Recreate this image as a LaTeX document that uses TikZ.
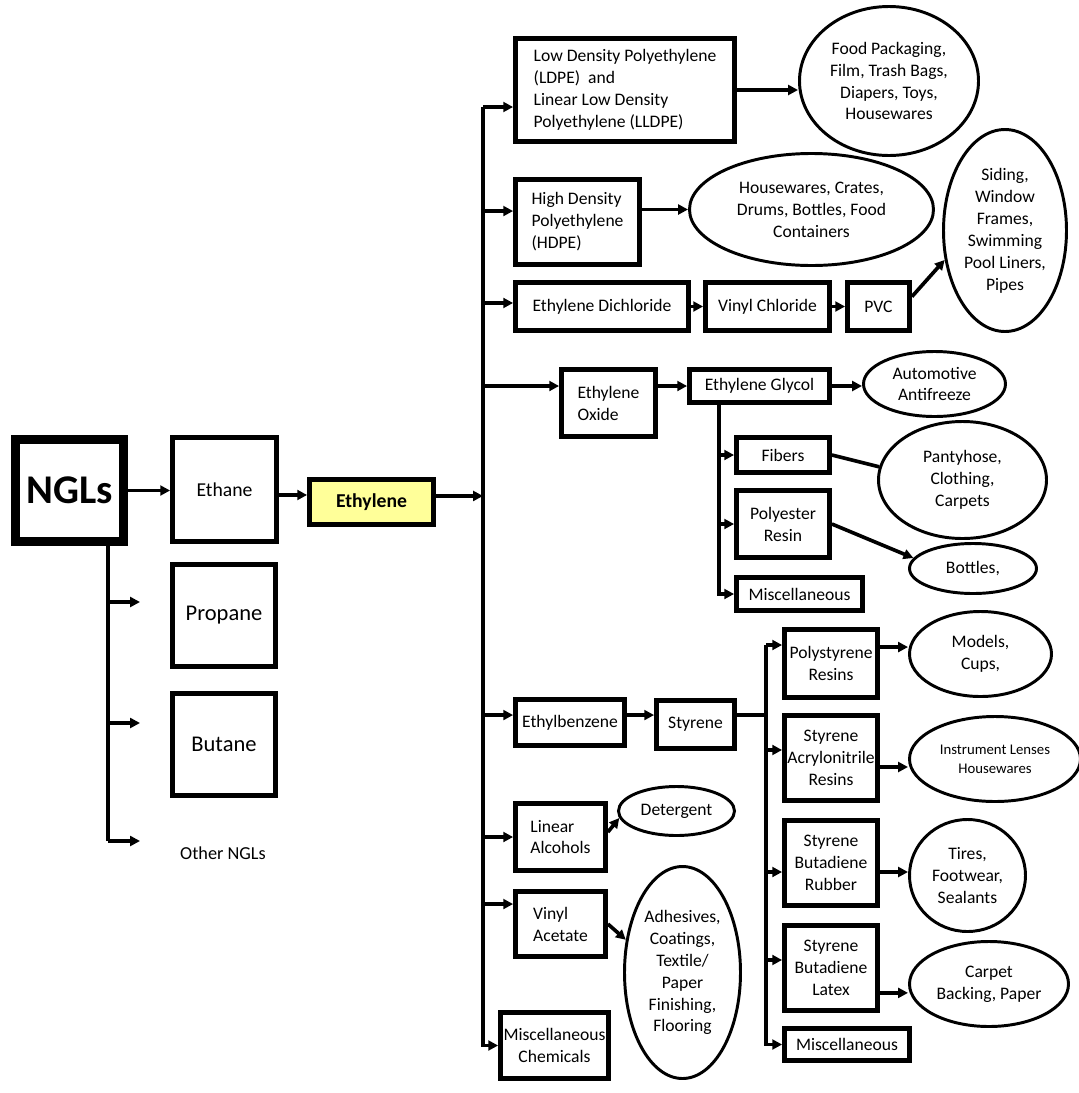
\documentclass[tikz,border=0pt]{standalone}
\usepackage{fontspec}
\setmainfont{Carlito}
\usetikzlibrary{arrows.meta, shapes.geometric}
\definecolor{ethyfill}{RGB}{255,255,153}
\tikzset{sz/.style 2 args={minimum width=#1*0.025cm, minimum height=#2*0.025cm}}

\begin{document}
\begin{tikzpicture}[
  x=0.025cm, y=-0.025cm,
  box/.style={rectangle, draw, line width=3.4pt, inner sep=1pt, align=center, font=\fontsize{12.5}{15.6}\selectfont},
  lbox/.style={box, align=left},
  oval/.style={ellipse, draw, line width=2.1pt, inner sep=0pt, align=center, font=\fontsize{12.5}{15.6}\selectfont},
  arr/.style={line width=2.6pt, -{Triangle[length=7pt, width=7pt]}},
  link/.style={line width=2.6pt}
]
\useasboundingbox (0,0) rectangle (1079,1093);

\node[box, sz={108}{102}, line width=6.2pt, font=\fontsize{29}{34}\selectfont\bfseries] (ngl) at (69.5, 490.5) {NGLs};
\node[box, sz={104}{104}, font=\fontsize{14}{17}\selectfont] (ethane) at (224.5, 489.5) {Ethane};
\node[box, sz={103}{102}, font=\fontsize{16}{19}\selectfont] (propane) at (224, 615.5) {Propane};
\node[box, sz={103}{102}, font=\fontsize{16}{19}\selectfont] (butane) at (224, 744.5) {Butane};
\node[font=\fontsize{13}{16}\selectfont] (other) at (223, 853) {Other NGLs};
\node[box, sz={124}{45}, fill=ethyfill, font=\fontsize{14}{17}\selectfont\bfseries] (ethylene) at (371.5, 502) {Ethylene};

\node[lbox, sz={219}{103}] (ldpe) at (625, 90) {Low Density Polyethylene\\(LDPE)\ \ and\\Linear Low Density\\Polyethylene (LLDPE)};
\node[lbox, sz={124}{85}] (hdpe) at (577.5, 222) {High Density\\Polyethylene\\(HDPE)};
\node[box, sz={173}{48}] (edc) at (602, 306.5) {Ethylene Dichloride};
\node[box, sz={124}{48}] (vcl) at (767.5, 306.5) {Vinyl Chloride};
\node[box, sz={62}{48}] (pvc) at (878.5, 306.5) {PVC};
\node[lbox, sz={94}{67}] (eo) at (608.5, 403) {Ethylene\\Oxide};
\node[box, sz={140}{33}] (eg) at (759.5, 386) {Ethylene Glycol};
\node[box, sz={93}{35}] (fibers) at (783, 455) {Fibers};
\node[box, sz={93}{67}] (polyres) at (783, 524) {Polyester\\Resin};
\node[box, sz={126}{33}] (misc1) at (799.5, 594) {Miscellaneous};
\node[box, sz={109}{46}] (ebz) at (570, 722.5) {Ethylbenzene};
\node[box, sz={78}{48}] (sty) at (695.5, 724.5) {Styrene};
\node[box, sz={93}{68}] (psr) at (831, 663.5) {Polystyrene\\Resins};
\node[box, sz={93}{85}] (san) at (831, 758) {Styrene\\Acrylonitrile\\Resins};
\node[box, sz={93}{85}] (sbr) at (831, 863) {Styrene\\Butadiene\\Rubber};
\node[box, sz={93}{85}] (sbl) at (831, 968) {Styrene\\Butadiene\\Latex};
\node[box, sz={125}{32}] (misc2) at (847, 1044.5) {Miscellaneous};
\node[lbox, sz={90}{67}] (lalc) at (560.5, 837) {Linear\\Alcohols};
\node[lbox, sz={90}{65}] (vac) at (560.5, 924) {Vinyl\\Acetate};
\node[box, sz={108}{66}] (mchem) at (554.5, 1045.5) {Miscellaneous\\Chemicals};

\node[oval, sz={179}{149}] (food) at (889, 81) {Food Packaging,\\Film, Trash Bags,\\Diapers, Toys,\\Housewares};
\node[oval, sz={244}{112}] (housew) at (811.5, 209.5) {Housewares, Crates,\\Drums, Bottles, Food\\Containers};
\node[oval, sz={123}{202}] (siding) at (1005, 230.5) {Siding,\\Window\\Frames,\\Swimming\\Pool Liners,\\Pipes};
\node[oval, sz={142}{65}] (auto) at (934.5, 384) {Automotive\\Antifreeze};
\node[oval, sz={168}{117}] (panty) at (962.5, 480) {Pantyhose,\\Clothing,\\Carpets};
\node[oval, sz={127}{50}] (bottles) at (973, 568.5) {Bottles,};
\node[oval, sz={142}{85}] (models) at (980.5, 654) {Models,\\Cups,};
\node[oval, sz={171}{85}, font=\fontsize{10.5}{13.5}\selectfont] (instr) at (995, 759) {Instrument Lenses\\Housewares};
\node[oval, sz={116}{112}] (tires) at (967.5, 875.5) {Tires,\\Footwear,\\Sealants};
\node[oval, sz={159}{85}] (carpet) at (989, 984) {Carpet\\Backing, Paper};
\node[oval, sz={116}{49}] (deter) at (676.5, 811) {Detergent};
\node[oval, sz={116}{212}] (adh) at (682.5, 972.5) {Adhesives,\\Coatings,\\Textile/\\Paper\\Finishing,\\Flooring};

\coordinate (ttop) at (483, 107);
\coordinate (nv) at (108, 546);
\coordinate (gv) at (719, 405);
\coordinate (sv) at (766, 645);
\coordinate (p1) at (140, 602);
\coordinate (p2) at (140, 723);
\coordinate (p3) at (140, 841);

\draw[arr] (ngl.east) -- (ngl.east -| ethane.west);
\draw[arr] ([yshift=-3.9pt]ethane.east) -- ([yshift=-3.9pt]ethane.east -| ethylene.west);
\draw[arr] ([yshift=4.3pt]ethylene.east) -- ([yshift=4.3pt]ethylene.east -| ttop);
\draw[link] (nv) -- (nv |- p3);
\draw[arr] (nv |- p1) -- (p1);
\draw[arr] (nv |- p2) -- (p2);
\draw[arr] (nv |- p3) -- (p3);

\draw[arr] (ttop) |- (mchem.west);
\draw[arr] (ttop) -- (ttop -| ldpe.west);
\draw[arr] ([yshift=7.8pt]hdpe.west -| ttop) -- ([yshift=7.8pt]hdpe.west);
\draw[arr] ([yshift=2.5pt]edc.west -| ttop) -- ([yshift=2.5pt]edc.west);
\draw[arr] (eg.west -| ttop) -- (eg.west -| eo.west);
\draw[arr] ([yshift=5.3pt]ebz.west -| ttop) -- ([yshift=5.3pt]ebz.west);
\draw[arr] (lalc.west -| ttop) -- (lalc.west);
\draw[arr] ([yshift=14.2pt]vac.west -| ttop) -- ([yshift=14.2pt]vac.west);

\draw[arr] (ldpe.east) -- (ldpe.east -| food.west);
\draw[arr] (housew.west -| hdpe.east) -- (housew.west);
\draw[arr] (edc.east) -- (vcl.west);
\draw[arr] (vcl.east) -- (pvc.west);
\draw[arr] ([yshift=7pt]pvc.east) -- (siding.206);
\draw[arr] (eg.west -| eo.east) -- (eg.west);
\draw[arr] (eg.east) -- (eg.east -| auto.west);
\draw[arr] (gv) |- (misc1.west);
\draw[arr] (fibers.west -| gv) -- (fibers.west);
\draw[arr] (polyres.west -| gv) -- (polyres.west);
\draw[link] (fibers.east) -- (panty.171);
\draw[arr] (polyres.east) -- (bottles.170);

\draw[arr] ([yshift=5.3pt]ebz.east) -- ([yshift=5.3pt]ebz.east -| sty.west);
\draw[link] ([yshift=6.7pt]sty.east) -- ([yshift=6.7pt]sty.east -| sv);
\draw[arr] (sv) |- (misc2.west);
\draw[arr] (sv) -- (sv -| psr.west);
\draw[arr] ([yshift=5.7pt]san.west -| sv) -- ([yshift=5.7pt]san.west);
\draw[arr] ([yshift=-6.4pt]sbr.west -| sv) -- ([yshift=-6.4pt]sbr.west);
\draw[arr] ([yshift=5.7pt]sbl.west -| sv) -- ([yshift=5.7pt]sbl.west);
\draw[arr] ([yshift=11.7pt]psr.east) -- ([yshift=11.7pt]psr.east -| models.west);
\draw[arr] ([yshift=-6.4pt]san.east) -- ([yshift=-6.4pt]san.east -| instr.west);
\draw[arr] ([yshift=-6.4pt]sbr.east) -- ([yshift=-6.4pt]sbr.east -| tires.west);
\draw[arr] ([yshift=-17.7pt]sbl.east) -- ([yshift=-17.7pt]sbl.east -| carpet.west);

\draw[arr] ([yshift=3.5pt]lalc.east) -- (deter.187);
\draw[arr] (vac.east) -- (adh.150);

\end{tikzpicture}
\end{document}
